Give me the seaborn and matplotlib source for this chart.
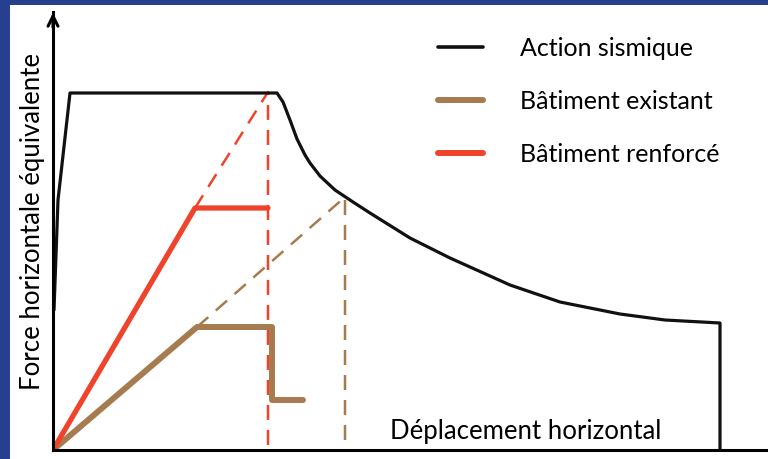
import numpy as np
import matplotlib
matplotlib.use('Agg')
import matplotlib.pyplot as plt
import seaborn as sns
from matplotlib.lines import Line2D
from matplotlib.patches import Rectangle

# data (relative units: displacement, equivalent horizontal force)
sismique_x = [1, 5, 17, 224, 230, 237, 244, 252, 257, 267, 282, 300, 317, 357, 397,
              457, 507, 567, 612, 667, 667]
sismique_y = [140, 250, 357, 357, 348, 330, 311, 295, 287, 274, 260, 248, 237, 212, 192,
              165, 148, 136, 130, 127, 0]

existant_x = [0, 144, 219, 219, 250]
existant_y = [0, 123, 123, 50, 50]
existant_dash_x = [144, 292, 292]
existant_dash_y = [123, 253, 0]

renforce_x = [0, 142, 215]
renforce_y = [0, 242, 242]
renforce_dash_x = [142, 215, 215]
renforce_dash_y = [242, 358, 0]

labels = ['Action sismique', 'Bâtiment existant', 'Bâtiment renforcé']
c_black = '#111111'
c_brown = '#a67b4f'
c_red = '#f0432b'

sns.set_style('white')
plt.rcParams['font.family'] = ['Lato', 'DejaVu Sans']

fig = plt.figure(figsize=(7.68, 4.59), dpi=100, facecolor='#263f8f')
fig.patches.append(Rectangle((10 / 768, 0), 1, 454 / 459, transform=fig.transFigure,
                             facecolor='white', edgecolor='none', zorder=-5))
ax = fig.add_axes([53 / 768, 9 / 459, 715 / 768, 438 / 459])
ax.set_facecolor('none')
ax.set_zorder(2)

dash = (6, 4)
sns.lineplot(x=renforce_dash_x, y=renforce_dash_y, sort=False, estimator=None, ax=ax,
             color=c_red, lw=1.8)
ax.lines[-1].set_dashes(dash)
sns.lineplot(x=existant_dash_x, y=existant_dash_y, sort=False, estimator=None, ax=ax,
             color=c_brown, lw=1.8)
ax.lines[-1].set_dashes(dash)
sns.lineplot(x=sismique_x, y=sismique_y, sort=False, estimator=None, ax=ax,
             color=c_black, lw=2.3)
sns.lineplot(x=existant_x, y=existant_y, sort=False, estimator=None, ax=ax,
             color=c_brown, lw=4.3)
sns.lineplot(x=renforce_x, y=renforce_y, sort=False, estimator=None, ax=ax,
             color=c_red, lw=3.8)

ax.set_xlim(0, 715)
ax.set_ylim(0, 438)
ax.set_xticks([])
ax.set_yticks([])
for s in ['top', 'right']:
    ax.spines[s].set_visible(False)
for s in ['left', 'bottom']:
    ax.spines[s].set_color('black')
    ax.spines[s].set_linewidth(2.2)
ax.annotate('', xy=(0, 440), xytext=(0, 420), xycoords='data',
            arrowprops=dict(arrowstyle='->', lw=2.2, color='black', mutation_scale=18),
            annotation_clip=False)

handles = [Line2D([], [], color=c_black, lw=2.6),
           Line2D([], [], color=c_brown, lw=4.3),
           Line2D([], [], color=c_red, lw=4.3)]
leg = ax.legend(handles, labels, loc='upper left', bbox_to_anchor=(362 / 715, 0.995),
                frameon=False, fontsize=18, handlelength=1.8, handletextpad=1.5,
                labelspacing=1.2)
for t in leg.get_texts():
    t.set_color('black')

fig.text(33 / 768, 1 - 222 / 459, 'Force horizontale équivalente', rotation=90,
         ha='center', va='center', fontsize=18.5, color='black')
fig.text(390 / 768, 1 - 432 / 459, 'Déplacement horizontal', ha='left', va='center',
         fontsize=18.5, color='black')

fig.savefig('out.png', dpi=100, facecolor=fig.get_facecolor())
